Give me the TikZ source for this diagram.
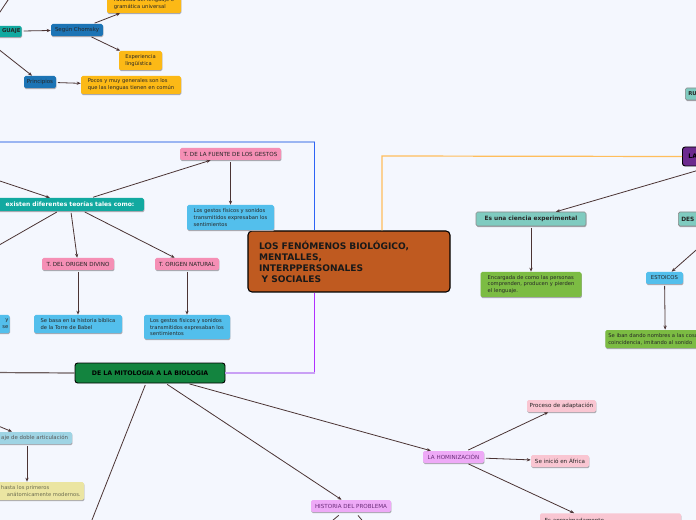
\documentclass[tikz,border=0pt]{standalone}
\usepackage{fontspec}
\setmainfont{DejaVu Sans}
\usetikzlibrary{arrows.meta,shadows}
\definecolor{bg}{HTML}{F4F7FE}
\definecolor{edgec}{HTML}{4B3434}
\definecolor{tealD}{HTML}{12A9A0}
\definecolor{blueD}{HTML}{1C74B5}
\definecolor{orangeC}{HTML}{FCB916}
\definecolor{pinkC}{HTML}{F58FB5}
\definecolor{blueL}{HTML}{53BFEC}
\definecolor{greenC}{HTML}{7CBC43}
\definecolor{tealL}{HTML}{7FCBC0}
\definecolor{laC}{HTML}{6C2A8E}
\definecolor{mainC}{HTML}{BF5A20}
\definecolor{mitoC}{HTML}{13843F}
\definecolor{violetC}{HTML}{EEAAF7}
\definecolor{violetT}{HTML}{6B2D7A}
\definecolor{pinkL}{HTML}{F9C6D2}
\definecolor{artC}{HTML}{9FD4E4}
\definecolor{yelC}{HTML}{EBE5A2}
\definecolor{yelT}{HTML}{6B6B50}
\definecolor{shadowc}{HTML}{A9A9B0}
\definecolor{blueH}{HTML}{9AB5F2}
\definecolor{blueV}{HTML}{2D63F5}
\definecolor{purpV}{HTML}{B030FF}
\definecolor{purpH}{HTML}{C9A0F5}
\definecolor{orangeL}{HTML}{FFBE5C}
\definecolor{greyL}{HTML}{6E6060}
\newcommand\myfs[2]{\fontsize{#1}{#2}\selectfont}
\tikzset{
  box/.style={rounded corners=1.2pt, inner sep=1pt, text=black!85, font=\myfs{3.9}{5.2},
    drop shadow={shadow xshift=0.3pt, shadow yshift=-0.9pt, fill=shadowc, opacity=1}},
  boxb/.style={box, draw=black!45, line width=0.4pt},
  sz/.style 2 args={minimum width=#1*0.75pt, minimum height=#2*0.75pt},
  lab/.style={font=\myfs{4.2}{5.2}},
  edge/.style={draw=edgec, line width=0.6pt, -{Stealth[length=3pt,width=2.4pt]}, shorten <=1.2pt},
  plain/.style={draw=edgec, line width=0.6pt, shorten <=1.2pt},
}
\begin{document}
\begin{tikzpicture}[x=0.75pt,y=-0.75pt]
\useasboundingbox (0,0) rectangle (696,520);
\fill[bg] (0,0) rectangle (696,520);

% ---------- main ----------
\node[draw=black, line width=0.8pt, rounded corners=3pt, fill=mainC, minimum height=45.75pt,
  inner xsep=8.25pt, text width=135pt, align=left, font=\bfseries\myfs{6.8}{8.25}, text=black!90]
  (main) at (349,261.5) {LOS FENÓMENOS BIOLÓGICO,\\MENTALLES,\\INTERPPERSONALES\\\hspace*{0.3em}Y SOCIALES};

% ---------- top left ----------
\node[box, fill=tealD, font=\bfseries\myfs{4}{5}, text width=36pt, align=right, minimum height=8.25pt, anchor=east] (lang) at (22,31.5) {GUAJE};
\node[box, fill=blueD, sz={52}{12}, font=\myfs{4.1}{5}] (chom) at (77,30) {Según Chomsky};
\node[box, fill=orangeC, sz={74}{18}, align=left] (fac) at (144,4) {Facultad del lenguaje o\\gramática universal};
\node[box, fill=orangeC, sz={43}{19}, align=left] (exp) at (140.5,60.5) {Experiencia\\lingüística};
\node[box, fill=blueD, sz={32}{12}, font=\myfs{4.1}{5}] (prin) at (40,82) {Principios};
\node[box, fill=orangeC, sz={100}{18}, align=left] (pocos) at (131,85) {Pocos y muy generales son los\\que las lenguas tienen en común};

\coordinate (t0) at (-4,18);
\coordinate (t1) at (10.7,-4);
\coordinate (langS) at (-17,37);
\draw[plain] (t0) -- (t1);
\draw[edge] (langS) -- (prin);
\draw[edge] (lang) -- (chom);
\draw[edge] (chom) -- (fac);
\draw[edge] (chom) -- (exp);
\draw[edge] (prin) -- (pocos);

% ---------- frame lines ----------
\coordinate (bL) at (-5,142);
\coordinate (bC) at (314.5,142);
\coordinate (oC) at (382,156);
\draw[blueH, line width=0.9pt] (bL) -- (bC);
\draw[blueV, line width=0.9pt] (bC) -- (main.north -| bC);

% ---------- left cluster ----------
\node[box, fill=tealD, text=white, font=\bfseries\myfs{4.5}{5.5}, sz={148}{13}, drop shadow={opacity=0}] (teo) at (70,204.5) {existen diferentes teorías tales como:};
\node[box, lab, fill=pinkC, sz={101}{12}] (fuente) at (230.5,154) {T. DE LA FUENTE DE LOS GESTOS};
\node[box, fill=blueL, sz={87}{25}, align=left] (gest1) at (230.5,217.5) {Los gestos físicos y sonidos\\transmitidos expresaban los\\sentimientos};
\node[box, lab, fill=pinkC, sz={72}{12}] (divino) at (78,264) {T. DEL ORIGEN DIVINO};
\node[box, lab, fill=pinkC, sz={64}{12}] (natural) at (187,264) {T. ORIGEN NATURAL};
\node[box, fill=blueL, sz={88}{18}, align=left] (torre) at (78,324) {Se basa en la historia bíblica\\de la Torre de Babel};
\node[box, fill=blueL, sz={86}{24}, align=left] (gest2) at (187,327) {Los gestos físicos y sonidos\\transmitidos expresaban los\\sentimientos};
\node[box, fill=blueL, anchor=east, text width=30pt, align=right, minimum height=13.5pt] (cutb) at (10,324) {y\\se};

\coordinate (teoIn) at (-12,177);
\coordinate (teoOut) at (-20,256);
\draw[edge] (teoIn) -- (teo);
\draw[plain] (teo) -- (teoOut);
\draw[edge] (teo) -- (fuente);
\draw[edge] (teo) -- (divino);
\draw[edge] (teo) -- (natural);
\draw[edge] (fuente) -- (gest1);
\draw[edge] (divino) -- (torre);
\draw[edge] (natural) -- (gest2);

% ---------- mitologia ----------
\node[draw=black, line width=0.7pt, rounded corners=2pt, fill=mitoC, sz={150}{20}, font=\bfseries\myfs{4.7}{5.5}, text=black] (mito) at (150,373) {DE LA MITOLOGIA A LA BIOLOGIA};
\draw[purpV, line width=0.9pt] (main.south -| bC) -- (bC |- mito.east);
\draw[purpH, line width=0.9pt] (bC |- mito.east) -- (mito.east);
\coordinate (mIn) at (-10,372.5);
\draw[greyL, line width=0.9pt] (mIn) -- (mito.west);

\node[box, fill=artC, sz={90}{12}, inner xsep=3pt, text width=61.5pt, align=right, text=black!65, font=\myfs{4.05}{5.2}] (art) at (27,438) {aje de doble articulación};
\node[box, fill=yelC, sz={114}{18}, text width=83.5pt, align=left, text=yelT] (yel) at (27,491) {\hspace*{22.25pt}hasta los primeros\\\hspace*{26.75pt}anátomicamente modernos.};
\coordinate (artIn) at (-20,418.3);
\draw[edge] (artIn) -- (art);
\draw[edge] (art) -- (yel);

\node[box, lab, fill=violetC, text=violetT, sz={80}{12}] (historia) at (351,506) {HISTORIA DEL PROBLEMA};
\node[box, lab, fill=violetC, text=violetT, sz={61}{12}] (homin) at (453.5,457) {LA HOMINIZACIÓN};
\coordinate (mOut) at (88,530);
\draw[plain] (mito) -- (mOut);
\draw[edge] (mito) -- (historia);
\draw[edge] (mito) -- (homin);
\coordinate (h1) at (326,526);
\coordinate (h2) at (367,526);
\draw[plain] ([xshift=-8.25pt,yshift=-1.5pt]historia.south) -- (h1);
\draw[plain] ([xshift=4.5pt,yshift=-1.5pt]historia.south) -- (h2);

\node[box, lab, fill=pinkL, sz={69}{12}] (proc) at (561.5,406) {Proceso de adaptación};
\node[box, lab, fill=pinkL, sz={58}{12}] (afr) at (560,461) {Se inició en África};
\node[box, lab, fill=pinkL, minimum width=105.75pt, text height=4.5pt, text depth=16.5pt, inner ysep=2pt, inner xsep=3pt, text width=99pt, align=left] (apro) at (610.5,530) {Es aproximadamente};
\draw[edge] (homin) -- (proc);
\draw[edge] (homin) -- (afr);
\draw[edge] (homin) -- (apro);

% ---------- right ----------
\node[draw=black, line width=0.7pt, rounded corners=2pt, fill=laC, minimum height=14.25pt, inner xsep=4.5pt, text width=85.5pt, align=left, font=\bfseries\myfs{4.7}{5.5}, text=black, anchor=west] (la) at (682,156.5) {LA};
\draw[orangeL, line width=0.9pt] (main.north -| oC) -- (oC) -- (la.west);

\node[boxb, fill=tealL, sz={110}{14}, font=\bfseries\myfs{4.4}{5.5}] (exp2) at (531,219) {Es una ciencia experimental};
\node[box, fill=greenC, sz={101}{25}, align=left] (enc) at (531,284.5) {Encargada de como las personas\\comprenden, producen y pierden\\el lenguaje.};
\node[boxb, fill=tealL, minimum height=10.5pt, inner xsep=2.25pt, text width=75pt, align=left, font=\bfseries\myfs{4.4}{5.5}, anchor=west] (des) at (678,219) {DES};
\node[boxb, fill=tealL, minimum height=9pt, inner xsep=2.25pt, text width=30pt, align=left, font=\bfseries\myfs{4}{5}, anchor=west] (ru) at (685,94) {RU};
\node[box, lab, fill=blueL, sz={37}{12}, font=\myfs{4}{5}] (est) at (664.5,278) {ESTOICOS};
\node[box, fill=greenC, minimum height=13.5pt, inner xsep=2.25pt, text width=85.5pt, align=left, anchor=west] (iban) at (605,339) {Se iban dando nombres a las cosas\\coincidencia, imitando al sonido};

\draw[edge] (la) -- (exp2);
\draw[edge] (exp2) -- (enc);
\draw[edge] (des) -- (est);
\draw[edge] (est) -- (iban);
\end{tikzpicture}
\end{document}
